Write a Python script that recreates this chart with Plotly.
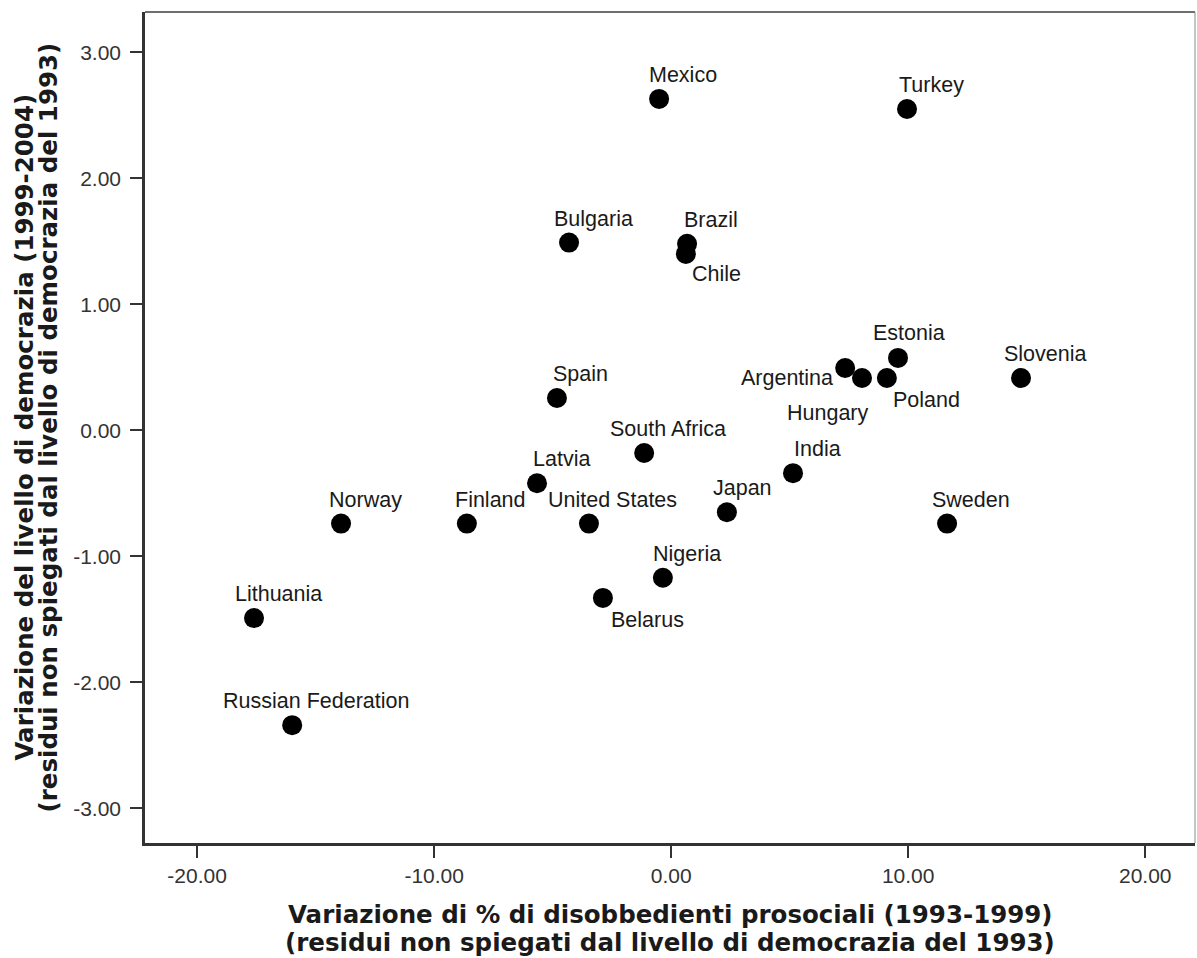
import plotly.graph_objects as go

countries = ["Mexico", "Turkey", "Bulgaria", "Brazil", "Chile", "Estonia", "Argentina",
             "Hungary", "Poland", "Slovenia", "Spain", "South Africa", "Latvia", "India",
             "Norway", "Finland", "United States", "Japan", "Sweden", "Nigeria", "Belarus",
             "Lithuania", "Russian Federation"]
x_vals = [-0.51, 9.95, -4.31, 0.67, 0.62, 9.57, 7.34,
          8.05, 9.10, 14.76, -4.82, -1.14, -5.66, 5.14,
          -13.93, -8.62, -3.47, 2.35, 11.64, -0.35, -2.88,
          -17.60, -15.99]
y_vals = [2.63, 2.55, 1.49, 1.48, 1.40, 0.575, 0.495,
          0.415, 0.415, 0.415, 0.257, -0.18, -0.42, -0.34,
          -0.74, -0.74, -0.74, -0.65, -0.74, -1.17, -1.33,
          -1.49, -2.34]
x_ticks = [-20, -10, 0, 10, 20]
x_ticklabels = ["-20.00", "-10.00", "0.00", "10.00", "20.00"]
y_ticks = [-3, -2, -1, 0, 1, 2, 3]
y_ticklabels = ["-3.00", "-2.00", "-1.00", "0.00", "1.00", "2.00", "3.00"]

x_title_lines = ["Variazione di % di disobbedienti prosociali (1993-1999)",
                 "(residui non spiegati dal livello di democrazia del 1993)"]
y_title_lines = ["Variazione del livello di democrazia (1999-2004)",
                 "(residui non spiegati dal livello di democrazia del 1993)"]

# label offsets in pixels (style)
default_off = (24, 24)
label_off = {
    "Chile": (31, -20),
    "Argentina": (-58, -10),
    "Hungary": (-34, -35),
    "Poland": (40, -22),
    "Belarus": (45, -22),
    "Estonia": (11, 25),
    "Japan": (16, 24),
}

FONT = "Liberation Sans, Arial, sans-serif"
TFONT = "DejaVu Sans, sans-serif"

fig = go.Figure()
fig.add_trace(go.Scatter(
    x=x_vals, y=y_vals, mode="markers",
    marker=dict(size=20, color="black", line=dict(width=0)),
    hoverinfo="text", text=countries, showlegend=False,
))

for c, xv, yv in zip(countries, x_vals, y_vals):
    dx, dy = label_off.get(c, default_off)
    fig.add_annotation(x=xv, y=yv, text=c, showarrow=False,
                       xshift=dx, yshift=dy,
                       font=dict(family=FONT, size=21.5, color="#1a1a1a"))

axis_common = dict(
    showgrid=False, zeroline=False, showline=True, linecolor="#333333", linewidth=2.5,
    ticks="outside", ticklen=12, tickwidth=2, tickcolor="#333333",
    tickfont=dict(family=FONT, size=21, color="#333333"),
)
fig.update_xaxes(range=[-22.2, 22.1], tickvals=x_ticks, ticktext=x_ticklabels,
                 ticklabelstandoff=0, **axis_common)
fig.update_yaxes(range=[-3.275, 3.32], tickvals=y_ticks, ticktext=y_ticklabels,
                 ticklabelstandoff=5, **axis_common)

# top and right frame lines
fig.add_shape(type="line", xref="paper", yref="paper", x0=0, x1=1, y0=1, y1=1,
              line=dict(color="#6e6e6e", width=2))
fig.add_shape(type="line", xref="paper", yref="paper", x0=1, x1=1, y0=0, y1=1,
              line=dict(color="#8a8a8a", width=1))

tfont = dict(family=TFONT, size=24.5, color="#1a1a1a", weight="bold")
for i, line in enumerate(x_title_lines):
    fig.add_annotation(xref="paper", yref="paper", x=0.5, y=0,
                       yshift=-71 - 28 * i, yanchor="middle", text=line, showarrow=False,
                       font=tfont)
for i, line in enumerate(y_title_lines):
    fig.add_annotation(xref="paper", yref="paper", x=0, xshift=-121 + 24 * i, xanchor="center",
                       y=0.5, yanchor="middle", text=line, showarrow=False, textangle=-90,
                       font=tfont)

fig.update_layout(
    width=1197, height=958,
    margin=dict(l=145, r=2, t=12, b=115),
    plot_bgcolor="white", paper_bgcolor="white",
)
fig.write_html("out.html", config={"displayModeBar": False},
               post_script="document.body.style.margin='0';document.body.style.overflow='hidden';")
